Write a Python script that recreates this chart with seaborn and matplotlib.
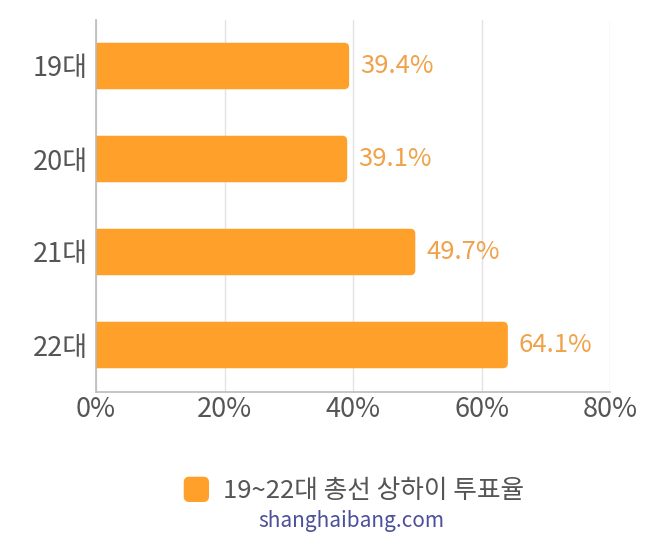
import matplotlib
matplotlib.use("Agg")
import matplotlib.pyplot as plt
import seaborn as sns
import pandas as pd
from matplotlib.patches import FancyBboxPatch, Patch
from matplotlib.legend_handler import HandlerPatch

categories = ["19대", "20대", "21대", "22대"]
values = [39.4, 39.1, 49.7, 64.1]
xticks = [0, 20, 40, 60, 80]
xtick_labels = ["0%", "20%", "40%", "60%", "80%"]
series_name = "19~22대 총선 상하이 투표율"
watermark = "shanghaibang.com"

BAR = "#FFA02A"
LABEL = "#F0A24A"
TXT = "#555555"

sns.set_theme(style="white")
plt.rcParams["font.family"] = ["Noto Sans CJK KR", "DejaVu Sans"]
plt.rcParams["font.weight"] = "light"

df = pd.DataFrame({"cat": categories, "val": values})

fig = plt.figure(figsize=(6.5, 5.48), dpi=100)
ax = fig.add_axes([96/650, 1-391.5/548, 514/650, 372/548])
sns.barplot(data=df, x="val", y="cat", color=BAR, width=0.5, saturation=1, ax=ax, orient="h")

ax.set_xlim(0, 80)
ax.set_ylim(3.5, -0.5)

# rounded bars
px_x = 514/80.0
px_y = 372/4.0
r_px = 5
aspect = (1/px_y)/(1/px_x)
old = list(ax.patches)
for p in old:
    x0, y0 = p.get_x(), p.get_y()
    w, h = p.get_width(), p.get_height()
    rx = r_px/px_x
    fb = FancyBboxPatch((x0 - rx, y0), w + rx, h,
                        boxstyle=f"round,pad=0,rounding_size={rx}",
                        mutation_aspect=aspect, facecolor=BAR, edgecolor="none",
                        zorder=2, clip_on=True)
    p.remove()
    ax.add_patch(fb)

for i, v in enumerate(values):
    ax.text(v + 1.7, i, f"{v}%", va="center", ha="left", fontsize=18.5, color=LABEL,
            fontweight="light")

ax.set_xticks(xticks)
ax.set_xticklabels(xtick_labels)
ax.tick_params(axis="x", labelsize=19.5, colors=TXT, length=0, pad=3)
ax.tick_params(axis="y", labelsize=19.5, colors=TXT, length=0, pad=6)
ax.xaxis.grid(True, color="#E3E3E3", linewidth=1)
ax.set_axisbelow(True)
ax.set_xlabel("")
ax.set_ylabel("")
for s in ["top", "right"]:
    ax.spines[s].set_visible(False)
for s in ["left", "bottom"]:
    ax.spines[s].set_color("#BBBBBB")
    ax.spines[s].set_linewidth(1.2)


class RoundHandler(HandlerPatch):
    def create_artists(self, legend, orig_handle, xdescent, ydescent, width, height, fontsize, trans):
        s = min(width, height) * 1.1
        cx = -xdescent + width/2
        cy = -ydescent + height/2
        p = FancyBboxPatch((cx - s/2, cy - s/2), s, s,
                           boxstyle=f"round,pad=0,rounding_size={s*0.22}",
                           facecolor=BAR, edgecolor="none", transform=trans)
        return [p]


handle = Patch(facecolor=BAR, label=series_name)
fig.legend(handles=[handle], loc="center", bbox_to_anchor=(354/650, 1-491/548),
           frameon=False, prop={"size": 18.5, "weight": "light"}, labelcolor=TXT,
           handler_map={Patch: RoundHandler()},
           handlelength=1.0, handleheight=1.0, handletextpad=0.55)

fig.text(351/650, 1-521/548, watermark, ha="center", va="center", fontsize=15,
         color="#4B4F9C", fontweight="light")

fig.savefig("out.png", dpi=100, facecolor="white")
